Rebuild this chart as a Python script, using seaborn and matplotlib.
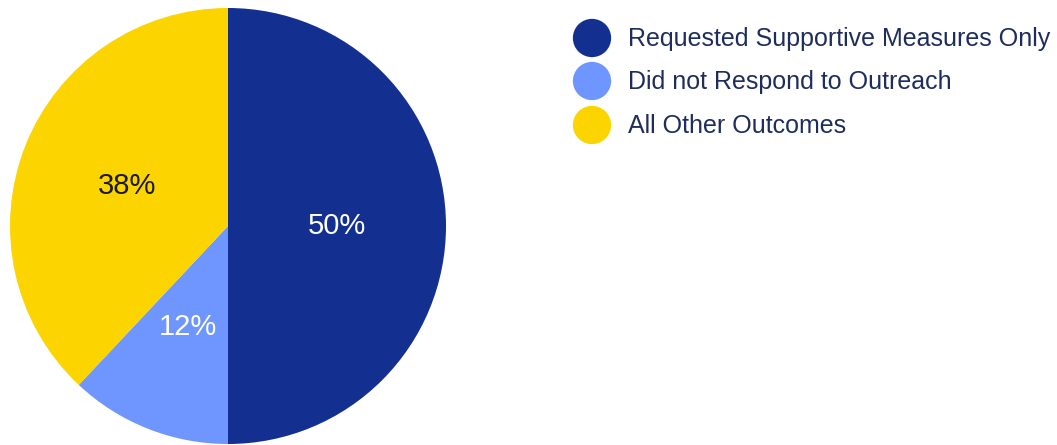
import matplotlib
matplotlib.use("Agg")
import matplotlib.pyplot as plt
import seaborn as sns

sns.set_theme(style="white")
plt.rcParams['font.family'] = ['Liberation Sans', 'DejaVu Sans']

categories = ["Requested Supportive Measures Only", "Did not Respond to Outreach", "All Other Outcomes"]
values = [50, 12, 38]
colors = ["#132f8f", "#6f96ff", "#fcd400"]
label_colors = ["white", "white", "#1a1a1a"]

W, H = 1057, 445
fig = plt.figure(figsize=(W / 100, H / 100), dpi=100)
fig.patch.set_facecolor("white")

cx, cy, r = 228, 226, 218
ax = fig.add_axes([(cx - r) / W, (H - cy - r) / H, 2 * r / W, 2 * r / H])
wedges, texts, autotexts = ax.pie(
    values, colors=colors, startangle=90, counterclock=False,
    autopct=lambda p: f"{p:.0f}%", pctdistance=0.5, radius=1,
    wedgeprops=dict(linewidth=0),
    textprops=dict(fontsize=21),
)
for t, c in zip(autotexts, label_colors):
    t.set_color(c)
ax.set_xlim(-1, 1)
ax.set_ylim(-1, 1)
ax.set_aspect("equal")
ax.axis("off")

# legend
lax = fig.add_axes([0, 0, 1, 1])
lax.set_xlim(0, W)
lax.set_ylim(H, 0)
lax.axis("off")
ys = [38, 81, 125]
for y, c, lab in zip(ys, colors, categories):
    lax.scatter([592], [y], s=760, color=c, edgecolors="none")
    lax.text(628, y + 1, lab, va="center", ha="left", fontsize=18, color="#1f2d5c")

fig.savefig("out.png", dpi=100)
